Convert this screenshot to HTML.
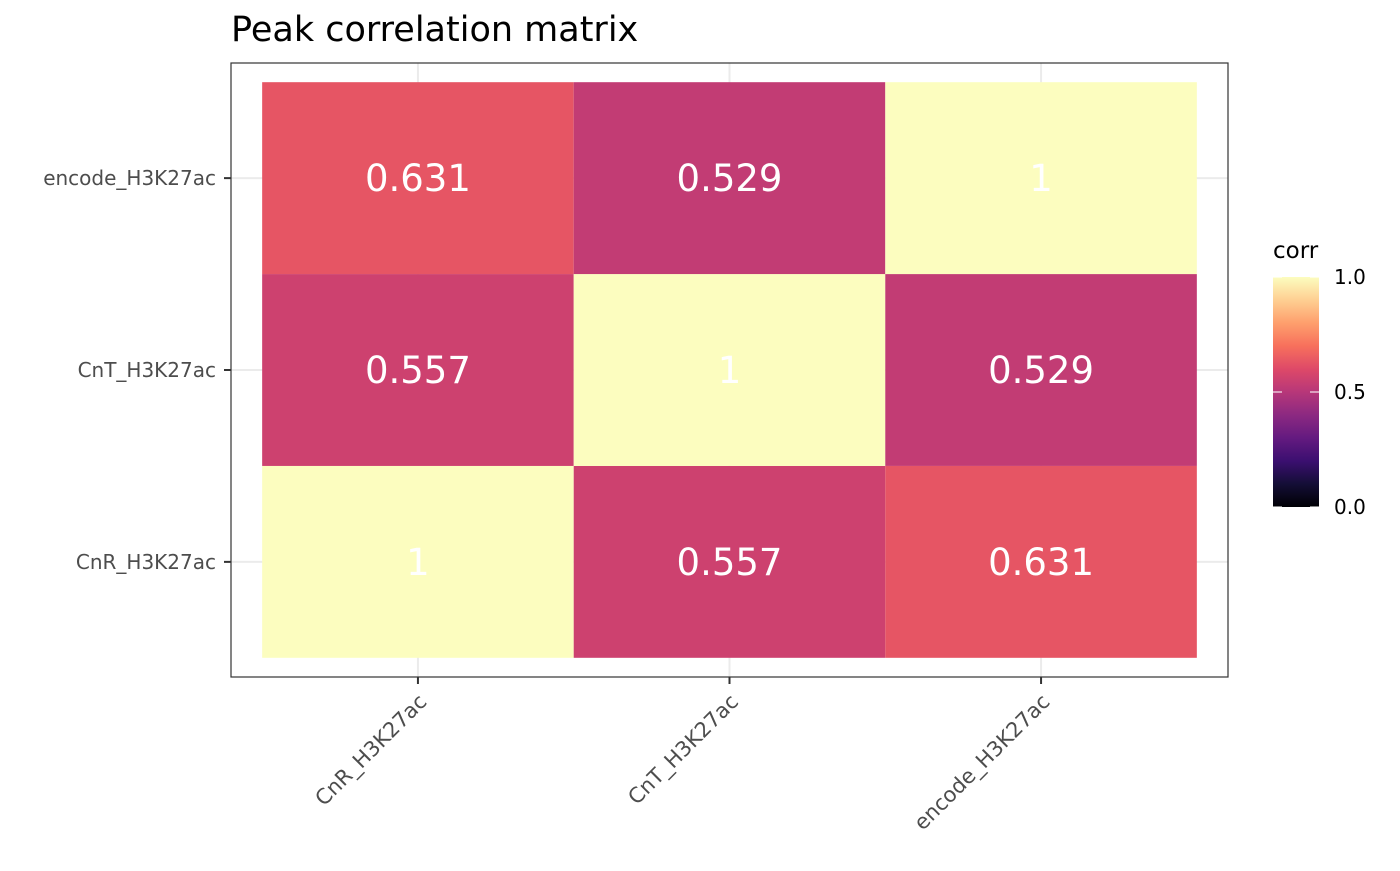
<!DOCTYPE html>
<html><head><meta charset="utf-8"><style>
body{margin:0;background:#fff;}
svg text{font-family:"DejaVu Sans","Liberation Sans",sans-serif;}
</style></head><body>
<svg id="chart" width="1400" height="866" xmlns="http://www.w3.org/2000/svg">
<defs><linearGradient id="magma" x1="0" y1="1" x2="0" y2="0">
<stop offset="0" stop-color="#000004"/><stop offset="0.1" stop-color="#140e36"/><stop offset="0.2" stop-color="#3b0f70"/><stop offset="0.3" stop-color="#641a80"/><stop offset="0.4" stop-color="#8c2981"/><stop offset="0.5" stop-color="#b73779"/><stop offset="0.6" stop-color="#de4968"/><stop offset="0.7" stop-color="#f7705c"/><stop offset="0.8" stop-color="#fe9f6d"/><stop offset="0.9" stop-color="#fecf92"/><stop offset="1" stop-color="#fcfdbf"/>
</linearGradient></defs>
<text x="231" y="41" font-size="35" fill="#000">Peak correlation matrix</text>
<rect x="231" y="63" width="997" height="614" fill="#fff"/>
<g id="grid"></g><g id="cells"></g><g id="labels"></g>
<rect x="231" y="63" width="997" height="614" fill="none" stroke="#333" stroke-width="1.2"/>
<g id="axes"></g>
<text x="1273" y="258" font-size="23" fill="#000">corr</text>
<rect x="1273" y="277" width="46" height="230" fill="url(#magma)"/>
<g id="legend"></g>
</svg>
<script>
const xCats = ["CnR_H3K27ac","CnT_H3K27ac","encode_H3K27ac"];
const yCats = ["CnR_H3K27ac","CnT_H3K27ac","encode_H3K27ac"];
const corr = [[1,0.557,0.631],[0.557,1,0.529],[0.631,0.529,1]];
const legendTicks = [0,0.5,1];
const legendLabels = ["0.0","0.5","1.0"];

const NS="http://www.w3.org/2000/svg";
const px0=231,pw=997,py0=63,ph=614;
const bw=pw/(xCats.length+0.2), bh=ph/(yCats.length+0.2);
const xPos=i=>px0+bw*(0.6+i);
const yPos=j=>py0+ph-bh*(0.6+j);
const stops=["#000004","#140e36","#3b0f70","#641a80","#8c2981","#b73779","#de4968","#f7705c","#fe9f6d","#fecf92","#fcfdbf"];
function hex(h){return [1,3,5].map(k=>parseInt(h.substr(k,2),16));}
function magma(v){v=Math.max(0,Math.min(1,v));const t=v*10,i=Math.min(9,Math.floor(t)),f=t-i;const a=hex(stops[i]),b=hex(stops[i+1]);return "rgb("+a.map((c,k)=>Math.round(c+(b[k]-c)*f)).join(",")+")";}
function mk(tag,attrs,parent){const e=document.createElementNS(NS,tag);for(const k in attrs)e.setAttribute(k,attrs[k]);parent.appendChild(e);return e;}
const grid=document.getElementById("grid"),cells=document.getElementById("cells"),labels=document.getElementById("labels"),axes=document.getElementById("axes"),legend=document.getElementById("legend");
xCats.forEach((c,i)=>{const l=mk("line",{x1:xPos(i),x2:xPos(i),y1:py0,y2:py0+ph,stroke:"#ebebeb","stroke-width":2},grid);
});
yCats.forEach((c,j)=>{const l=mk("line",{x1:px0,x2:px0+pw,y1:yPos(j),y2:yPos(j),stroke:"#ebebeb","stroke-width":2},grid);
});
yCats.forEach((yc,j)=>xCats.forEach((xc,i)=>{const v=corr[j][i];
const r=mk("rect",{x:xPos(i)-bw/2,y:yPos(j)-bh/2,width:bw,height:bh,fill:magma(v)},cells);

const t=mk("text",{x:xPos(i),y:yPos(j)+13,"font-size":37,fill:"#fff","text-anchor":"middle"},labels);t.textContent=String(v);
}));
xCats.forEach((c,i)=>{const x=xPos(i);mk("line",{x1:x,x2:x,y1:py0+ph,y2:py0+ph+7,stroke:"#333","stroke-width":2},axes);
const t=mk("text",{x:0,y:0,"font-size":21,fill:"#4d4d4d","text-anchor":"end",transform:`translate(${x+10},${py0+ph+26}) rotate(-45)`},axes);t.textContent=c;
});
yCats.forEach((c,j)=>{const y=yPos(j);mk("line",{x1:px0-7,x2:px0,y1:y,y2:y,stroke:"#333","stroke-width":2},axes);
const t=mk("text",{x:px0-15,y:y+7,"font-size":20,fill:"#4d4d4d","text-anchor":"end"},axes);t.textContent=c;
});
legendTicks.forEach((v,k)=>{const y=507-230*v;
mk("line",{x1:1273,x2:1282,y1:y,y2:y,stroke:"#fff","stroke-width":1.5,opacity:0.7},legend);
mk("line",{x1:1310,x2:1319,y1:y,y2:y,stroke:"#fff","stroke-width":1.5,opacity:0.7},legend);
const t=mk("text",{x:1334,y:y+7,"font-size":20,fill:"#000"},legend);t.textContent=legendLabels[k];
});
</script>
</body></html>
